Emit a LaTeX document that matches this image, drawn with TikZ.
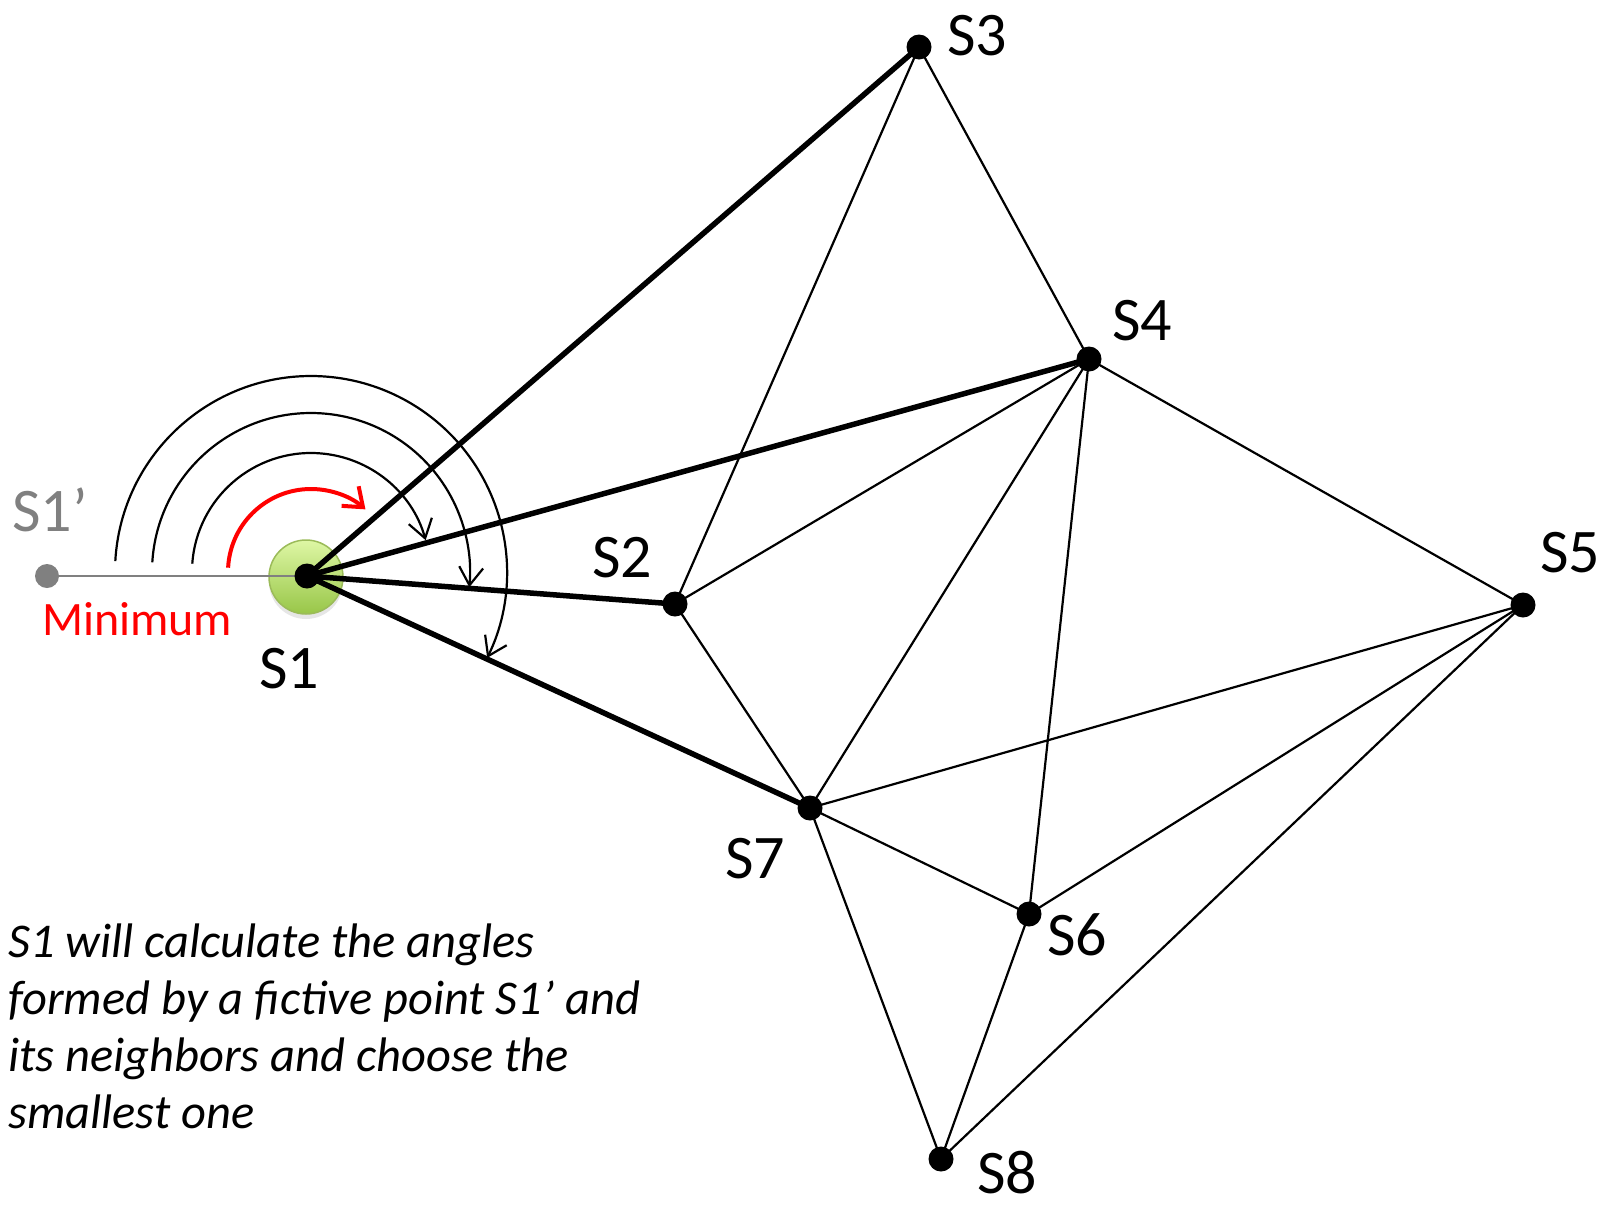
\documentclass[tikz,border=0pt]{standalone}
\usepackage{fontspec}
\setmainfont{Carlito}
\usetikzlibrary{arrows.meta,shadows,backgrounds}
\definecolor{sgray}{RGB}{128,128,128}
\definecolor{sred}{RGB}{255,0,0}
\definecolor{gtop}{RGB}{222,247,165}
\definecolor{gbot}{RGB}{152,198,72}
\definecolor{gborder}{RGB}{155,187,89}
\begin{document}
\begin{tikzpicture}[x=1pt,y=1pt,
  dot/.style={circle,fill=black,inner sep=0pt,minimum size=25pt},
  graydot/.style={circle,fill=sgray,inner sep=0pt,minimum size=24pt},
  lbl/.style={inner sep=0pt,anchor=base west,font=\fontsize{62}{74}\selectfont},
  note/.style={inner sep=0pt,anchor=base west,font=\fontsize{48.5}{58}\selectfont\itshape},
  heavy/.style={line width=5.5pt},
  light/.style={line width=2.2pt},
  sweep/.style={line width=2.2pt,-{Straight Barb[length=18pt,width=24pt]}},
  redsweep/.style={sred,line width=4pt,-{Straight Barb[length=17pt,width=26pt]}},
]
\useasboundingbox (0,0) rectangle (1606,-1205);

% nodes
\node[dot] (S1) at (307,-576) {};
\node[dot] (S2) at (675,-604) {};
\node[dot] (S3) at (919,-47) {};
\node[dot] (S4) at (1089,-359) {};
\node[dot] (S5) at (1523,-605) {};
\node[dot] (S6) at (1029,-914) {};
\node[dot] (S7) at (810,-808) {};
\node[dot] (S8) at (941,-1159) {};
\node[graydot] (S1p) at (47,-576) {};

\begin{scope}[on background layer]
  \node[circle,minimum size=74pt,inner sep=0pt,top color=gtop,bottom color=gbot,
        draw=gborder,line width=1.5pt,
        drop shadow={shadow xshift=0pt,shadow yshift=-5pt,opacity=0.2}] (halo) at (306,-577) {};
  \draw[sgray,line width=2.5pt] (S1p.center) -- (S1.center);
  % heavy edges
  \draw[heavy] (S1.center) -- (S3.center);
  \draw[heavy] (S1.center) -- (S4.center);
  \draw[heavy] (S1.center) -- (S2.center);
  \draw[heavy] (S1.center) -- (S7.center);
  % light edges
  \draw[light] (S3.center) -- (S2.center);
  \draw[light] (S3.center) -- (S4.center);
  \draw[light] (S2.center) -- (S4.center);
  \draw[light] (S2.center) -- (S7.center);
  \draw[light] (S4.center) -- (S7.center);
  \draw[light] (S4.center) -- (S6.center);
  \draw[light] (S4.center) -- (S5.center);
  \draw[light] (S5.center) -- (S7.center);
  \draw[light] (S5.center) -- (S6.center);
  \draw[light] (S5.center) -- (S8.center);
  \draw[light] (S7.center) -- (S6.center);
  \draw[light] (S7.center) -- (S8.center);
  \draw[light] (S6.center) -- (S8.center);
\end{scope}

% angle sweeps
\coordinate (C) at (311,-572);
\draw[redsweep] (C) ++(177:83) arc[start angle=177,end angle=49,radius=83];
\draw[sweep] (C) ++(176:119) arc[start angle=176,end angle=15.5,radius=119];
\draw[sweep] (C) ++(176.5:159) arc[start angle=176.5,end angle=-5.5,radius=159];
\draw[sweep] (C) ++(176.8:196) arc[start angle=176.8,end angle=-26,radius=196];

% labels
\node[lbl] (lS1) at (259,-688) {S1};
\node[lbl] (lS2) at (592,-577) {S2};
\node[lbl] (lS3) at (947,-55) {S3};
\node[lbl] (lS4) at (1112,-340) {S4};
\node[lbl] (lS5) at (1540,-572) {S5};
\node[lbl] (lS6) at (1047,-955) {S6};
\node[lbl] (lS7) at (725,-878) {S7};
\node[lbl] (lS8) at (977,-1193) {S8};
\node[lbl,text=sgray] (lS1p) at (12,-531) {S1’};
\node[lbl,text=sred,font=\fontsize{48}{58}\selectfont] (lmin) at (42,-635) {Minimum};

% note
\node[note] (n1) at (8,-957) {S1 will calculate the angles};
\node[note] (n2) at (8,-1014) {formed by a fictive point S1’ and};
\node[note] (n3) at (8,-1071) {its neighbors and choose the};
\node[note] (n4) at (8,-1128) {smallest one};
\end{tikzpicture}
\end{document}
